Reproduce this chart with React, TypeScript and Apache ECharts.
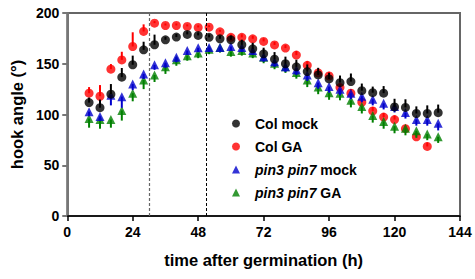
import React, { useEffect, useRef } from "react";
import * as echarts from "echarts";

const hours = [8, 12, 16, 20, 24, 28, 32, 36, 40, 44, 48, 52, 56, 60, 64, 68, 72, 76, 80, 84, 88, 92, 96, 100, 104, 108, 112, 116, 120, 124, 128, 132, 136];

const colMock = [111.7, 106.7, 120, 136.8, 149, 163.7, 168.7, 173.6, 176.3, 178.9, 177.9, 176, 174.6, 173.6, 168.7, 164.7, 159.8, 154.5, 150, 147, 142.3, 139, 135, 131.4, 132.4, 123.5, 121.5, 121, 107.5, 107, 101, 101, 101.8];
const colMockErr = [5, 8, 10, 9, 9, 8, 10, 3, 3, 3, 3, 3, 3, 4, 5, 6, 6, 7, 7, 7, 7, 7, 6, 7, 8, 7, 6, 7, 8, 8, 7, 8, 8];

const colGA = [121, 118, 144.7, 153.8, 167, 181.8, 190, 187.7, 187.7, 186.8, 185.8, 186, 181.5, 176, 176, 174.6, 172, 168.5, 165.4, 158.5, 148.5, 141, 138, 126.5, 121, 112, 103.5, 97.5, 95, 86, 78, 68.5];
const colGAErr = [6, 11, 5, 8, 14, 7, 2, 2, 2, 2, 2, 2, 2, 3, 3, 3, 3, 3, 3, 4, 4, 4, 4, 4, 4, 4, 4, 4, 4, 4, 4, 4];

const pinMock = [102.8, 98, 119, 117.6, 130, 140, 149, 151, 156.5, 163, 165.7, 166, 166, 167, 166, 163, 157, 152, 147, 144, 139, 131.4, 127.5, 125, 121, 118, 115, 111, 108, 102, 95, 95, 91.3];
const pinMockErr = [4, 4, 10, 11, 6, 5, 5, 5, 5, 4, 4, 4, 4, 4, 4, 4, 5, 5, 5, 5, 6, 6, 6, 6, 6, 6, 6, 6, 6, 6, 6, 6, 7];

const pinGA = [96, 95, 95, 104, 121, 134, 139, 147, 154, 158, 160.5, 164.4, 166, 162, 163, 160.5, 156.5, 150.6, 147, 141.3, 134, 127, 121.5, 121, 114, 108, 99, 93, 88.5, 86.5, 84, 80.7, 78];
const pinGAErr = [9, 9, 8, 10, 8, 9, 7, 7, 6, 5, 5, 5, 5, 5, 5, 5, 6, 6, 6, 6, 7, 7, 7, 7, 7, 7, 7, 7, 7, 7, 7, 6, 6];

const seriesNames = ["Col mock", "Col GA", "pin3 pin7 mock", "pin3 pin7 GA"];
const colors = ["#000000", "#ff0000", "#0000cc", "#008000"];
const xTicks = [0, 24, 48, 72, 96, 120, 144];
const yTicks = [0, 50, 100, 150, 200];
const markerLines = [30, 51];

const FONT = 'Arial, "Liberation Sans", sans-serif';

export default function App() {
  const ref = useRef<HTMLDivElement>(null);
  useEffect(() => {
    if (!ref.current) return;
    const chart = echarts.init(ref.current, null, { renderer: "svg" });

    const groups = [
      { name: seriesNames[0], vals: colMock, err: colMockErr, color: colors[0], symbol: "circle", dir: 1, size: 9 },
      { name: seriesNames[1], vals: colGA, err: colGAErr, color: colors[1], symbol: "circle", dir: 1, size: 9 },
      { name: seriesNames[2], vals: pinMock, err: pinMockErr, color: colors[2], symbol: "triangle", dir: -1, size: 9 },
      { name: seriesNames[3], vals: pinGA, err: pinGAErr, color: colors[3], symbol: "triangle", dir: -1, size: 9 },
    ];
    const drawOrder = [1, 3, 2, 0];

    const series: any[] = [];
    drawOrder.forEach((gi, k) => {
      const g = groups[gi];
      series.push({
        type: "custom",
        name: g.name + " err",
        coordinateSystem: "cartesian2d",
        encode: { x: 0, y: 1 },
        z: 2 + k * 2,
        silent: true,
        data: g.vals.map((v, i) => [hours[i], v, g.err[i]]),
        renderItem: (params: any, api: any) => {
          const x = api.value(0);
          const y = api.value(1);
          const e = api.value(2);
          const p0 = api.coord([x, y]);
          const p1 = api.coord([x, y + g.dir * e]);
          return {
            type: "line",
            shape: { x1: p0[0], y1: p0[1], x2: p1[0], y2: p1[1] },
            style: { stroke: g.color, lineWidth: 2 },
          };
        },
      });
      series.push({
        type: "scatter",
        name: g.name,
        z: 3 + k * 2,
        symbol: g.symbol,
        symbolSize: g.size,
        itemStyle: { color: g.color },
        data: g.vals.map((v, i) => [hours[i], v]),
      });
    });

    series.push({
      type: "scatter",
      name: "guides",
      data: [],
      z: 1,
      markLine: {
        silent: true,
        symbol: ["none", "none"],
        label: { show: false },
        data: [
          { xAxis: markerLines[0], lineStyle: { color: "#666666", type: [3, 2], width: 1.2 } },
          { xAxis: markerLines[1], lineStyle: { color: "#000000", type: [3, 2], width: 1 } },
        ],
      },
    });

    chart.setOption({
      animation: false,
      backgroundColor: "#ffffff",
      grid: {
        left: 62,
        right: 15,
        top: 13,
        bottom: 63,
        show: true,
        borderColor: "#666666",
        borderWidth: 2,
        containLabel: false,
      },
      xAxis: {
        type: "value",
        min: xTicks[0],
        max: xTicks[xTicks.length - 1],
        interval: 24,
        name: "time after germination (h)",
        nameLocation: "middle",
        nameGap: 35,
        nameTextStyle: { fontFamily: FONT, fontWeight: "bold", fontSize: 16.5, color: "#000" },
        axisLine: { show: true, lineStyle: { color: "#000000", width: 1.5 } },
        axisTick: { show: true, length: 5, lineStyle: { color: "#000000", width: 1.5 } },
        axisLabel: { fontFamily: FONT, fontWeight: "bold", fontSize: 14, color: "#000", margin: 9 },
        splitLine: { show: false },
      },
      yAxis: {
        type: "value",
        min: yTicks[0],
        max: yTicks[yTicks.length - 1],
        interval: 50,
        name: "hook angle (°)",
        nameLocation: "middle",
        nameGap: 40,
        nameTextStyle: { fontFamily: FONT, fontWeight: "bold", fontSize: 16.5, color: "#000" },
        axisLine: { show: true, lineStyle: { color: "#777777", width: 2 } },
        axisTick: { show: true, length: 5, lineStyle: { color: "#777777", width: 2 } },
        axisLabel: { fontFamily: FONT, fontWeight: "bold", fontSize: 14, color: "#000", margin: 8 },
        splitLine: { show: false },
      },
      legend: {
        orient: "vertical",
        left: 227,
        top: 110,
        itemWidth: 8,
        itemHeight: 8,
        itemGap: 6,
        selectedMode: false,
        data: seriesNames.map((n, i) => ({ name: n, icon: i < 2 ? "circle" : "triangle" })),
        formatter: (name: string) =>
          name.startsWith("pin3 pin7") ? "{i|pin3 pin7}" + name.slice(9) : name,
        textStyle: {
          fontFamily: FONT,
          fontWeight: "bold",
          fontSize: 14,
          color: "#000",
          lineHeight: 17,
          padding: [0, 0, 0, 10],
          rich: {
            i: { fontFamily: FONT, fontStyle: "italic", fontWeight: "bold", fontSize: 14, color: "#000", lineHeight: 17 },
          },
        },
      },
      series,
    });
    return () => chart.dispose();
  }, []);

  return (
    <div
      ref={ref}
      style={{ position: "fixed", left: 0, top: 0, width: 475, height: 279 }}
    />
  );
}
